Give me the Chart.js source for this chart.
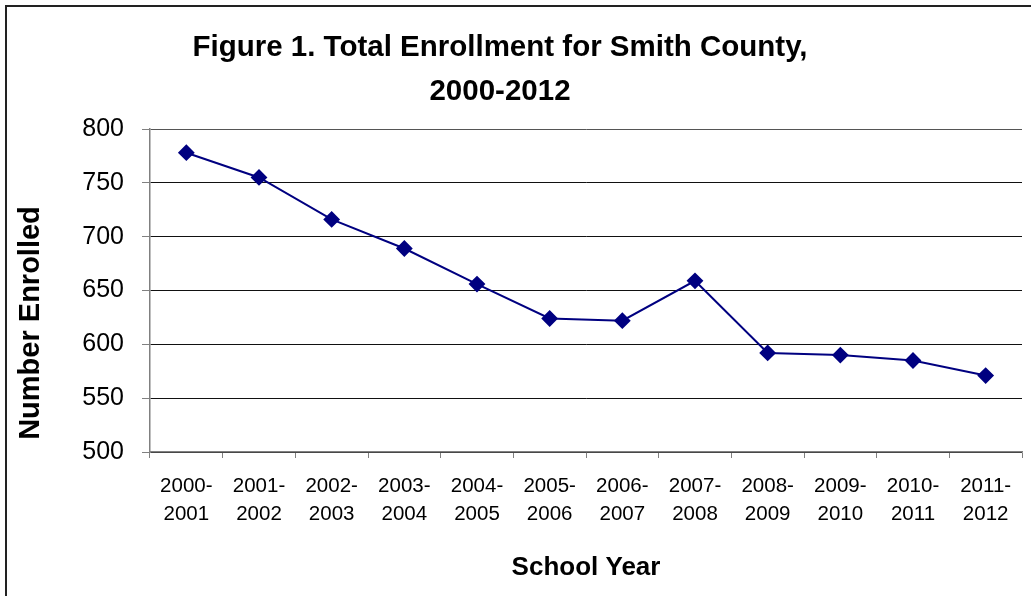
<!DOCTYPE html>
<html>
<head>
<meta charset="utf-8">
<title>Total Enrollment for Smith County</title>
<script src="https://cdn.jsdelivr.net/npm/chart.js@4"></script>
<style>
  body { margin: 0; background: #fff; }
  #wrap { width: 1031px; height: 596px; position: relative; }
</style>
</head>
<body>
<div id="wrap"><canvas id="enrollChart"></canvas></div>
<script>
  // chart data
  const schoolYears = [
    ['2000-', '2001'], ['2001-', '2002'], ['2002-', '2003'], ['2003-', '2004'],
    ['2004-', '2005'], ['2005-', '2006'], ['2006-', '2007'], ['2007-', '2008'],
    ['2008-', '2009'], ['2009-', '2010'], ['2010-', '2011'], ['2011-', '2012']
  ];
  const enrolled = [778, 755, 716, 689, 656, 624, 622, 659, 592, 590, 585, 571];
  const titleLines = ['Figure 1. Total Enrollment for Smith County,', '2000-2012'];
  const yTitle = 'Number Enrolled';
  const xTitle = 'School Year';
  const yMin = 500, yMax = 800, yStep = 50;

  const FONT = '"Liberation Sans", Arial, sans-serif';

  // frame, main title and rotated y title
  const decor = {
    id: 'decor',
    afterDraw(chart) {
      const ctx = chart.ctx;
      ctx.save();
      ctx.strokeStyle = '#222';
      ctx.lineWidth = 2;
      ctx.beginPath();
      ctx.moveTo(6, 600);
      ctx.lineTo(6, 6);
      ctx.lineTo(1040, 6);
      ctx.stroke();

      ctx.fillStyle = '#000';
      ctx.textAlign = 'center';
      ctx.textBaseline = 'alphabetic';
      ctx.font = 'bold 29.5px ' + FONT;
      ctx.fillText(titleLines[0], 500, 56);
      ctx.fillText(titleLines[1], 500, 100);

      ctx.translate(31, 323);
      ctx.rotate(-Math.PI / 2);
      ctx.textBaseline = 'middle';
      ctx.font = 'bold 29px ' + FONT;
      ctx.fillText(yTitle, 0, 0);
      ctx.restore();
    }
  };

  const ctx = document.getElementById('enrollChart').getContext('2d');
  new Chart(ctx, {
    type: 'line',
    data: {
      labels: schoolYears,
      datasets: [{
        label: 'Enrollment',
        data: enrolled,
        borderColor: '#000080',
        backgroundColor: '#000080',
        borderWidth: 2,
        pointStyle: 'rectRot',
        pointRadius: 7,
        pointHoverRadius: 7,
        tension: 0
      }]
    },
    options: {
      responsive: true,
      maintainAspectRatio: false,
      animation: false,
      layout: { padding: { top: 129, left: 0, right: 9, bottom: 0 } },
      plugins: {
        legend: { display: false },
        title: { display: false },
        tooltip: { enabled: false }
      },
      scales: {
        x: {
          offset: true,
          afterFit(scale) { scale.height = 144; },
          grid: {
            offset: true,
            drawOnChartArea: false,
            drawTicks: true,
            tickLength: 6,
            tickColor: '#808080'
          },
          border: { color: '#808080', width: 1.5 },
          ticks: {
            color: '#000',
            autoSkip: false,
            maxRotation: 0,
            padding: 14,
            font: { family: FONT, size: 20.5, lineHeight: 1.37 }
          },
          title: {
            display: true,
            text: xTitle,
            color: '#000',
            font: { family: FONT, size: 26, weight: 'bold', lineHeight: 1.2 },
            padding: { top: 0, bottom: 13 }
          }
        },
        y: {
          min: yMin,
          max: yMax,
          afterFit(scale) { scale.width = 150; },
          grid: {
            color: (c) => c.tick && c.tick.value === yMax ? '#555' : '#111',
            lineWidth: 1,
            drawTicks: true,
            tickLength: 8,
            tickColor: '#808080'
          },
          border: { color: '#808080', width: 1.5 },
          ticks: {
            stepSize: yStep,
            color: '#000',
            padding: 18,
            font: { family: FONT, size: 25 }
          }
        }
      }
    },
    plugins: [decor]
  });
</script>
</body>
</html>
